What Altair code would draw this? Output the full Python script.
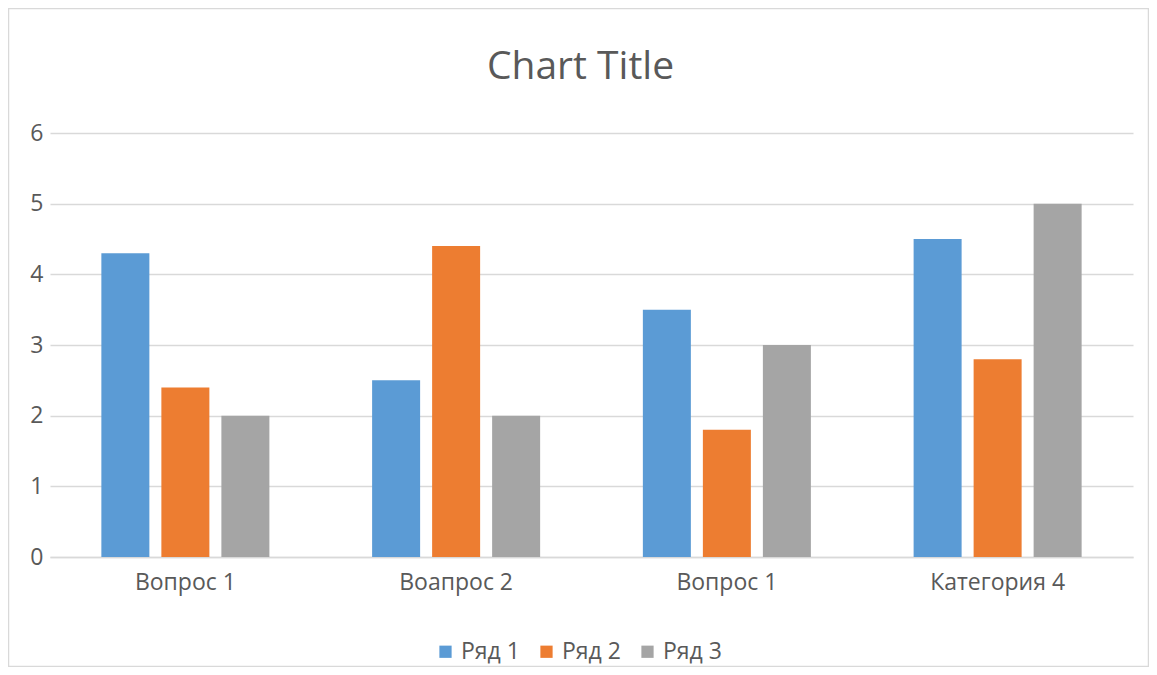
import altair as alt
import pandas as pd

categories = ["Вопрос 1", "Воапрос 2", "Вопрос 1", "Категория 4"]
series_names = ["Ряд 1", "Ряд 2", "Ряд 3"]
row1 = [4.3, 2.5, 3.5, 4.5]
row2 = [2.4, 4.4, 1.8, 2.8]
row3 = [2.0, 2.0, 3.0, 5.0]
colors = ["#5B9BD5", "#ED7D31", "#A5A5A5"]
chart_title = "Chart Title"

rows = []
for s, vals in zip(series_names, [row1, row2, row3]):
    for i, v in enumerate(vals):
        rows.append({"idx": i, "series": s, "value": v})
df = pd.DataFrame(rows)

label_expr = "[" + ",".join("'" + c + "'" for c in categories) + "][datum.value]"

FONT = "Open Sans"
TXT = "#595959"
GRID = "#D9D9D9"
FS = 23

W, H = 1083, 424

bars = alt.Chart(df).mark_bar().encode(
    x=alt.X("idx:O", title=None,
            scale=alt.Scale(paddingInner=0, paddingOuter=0),
            axis=alt.Axis(labelExpr=label_expr, labelAngle=0, ticks=False,
                          domain=True, domainColor=GRID, domainWidth=1.3,
                          labelFontSize=FS, labelFont=FONT, labelColor=TXT,
                          labelPadding=14)),
    xOffset=alt.XOffset("series:N", scale=alt.Scale(paddingInner=0.2, paddingOuter=0.856)),
    y=alt.Y("value:Q", title=None,
            scale=alt.Scale(domain=[0, 6], nice=False),
            axis=alt.Axis(values=[0, 1, 2, 3, 4, 5, 6], ticks=False, domain=False,
                          grid=True, gridColor=GRID, gridWidth=1.3,
                          labelFontSize=FS, labelFont=FONT, labelColor=TXT,
                          labelPadding=7)),
    color=alt.Color("series:N", title=None,
                    scale=alt.Scale(domain=series_names, range=colors),
                    legend=alt.Legend(orient="none", direction="horizontal",
                                      legendX=384, legendY=507,
                                      symbolType="square", symbolSize=150,
                                      symbolStrokeWidth=0,
                                      labelFontSize=FS, labelFont=FONT,
                                      labelColor=TXT, labelOffset=4,
                                      columnPadding=15)),
)

frame = alt.Chart(alt.Data(values=[{"a": 1}])).mark_rect(
    filled=False, stroke=GRID, strokeWidth=1.5
).encode(
    x=alt.value(-41.5), x2=alt.value(W + 15.5),
    y=alt.value(-124.5), y2=alt.value(H + 109.5),
)

title = alt.Chart(alt.Data(values=[{"t": chart_title}])).mark_text(
    font=FONT, fontSize=39, color=TXT, align="center", baseline="middle"
).encode(
    text="t:N", x=alt.value(W / 2 - 11), y=alt.value(-66),
)

chart = alt.layer(frame, bars, title).properties(
    width=W, height=H,
    padding={"left": 42, "top": 125, "right": 16, "bottom": 110},
    autosize=alt.AutoSizeParams(type="none"),
    background="white",
).configure_view(stroke="transparent", strokeWidth=0)

chart.save("out.html", embed_options={"renderer": "svg", "actions": False})
